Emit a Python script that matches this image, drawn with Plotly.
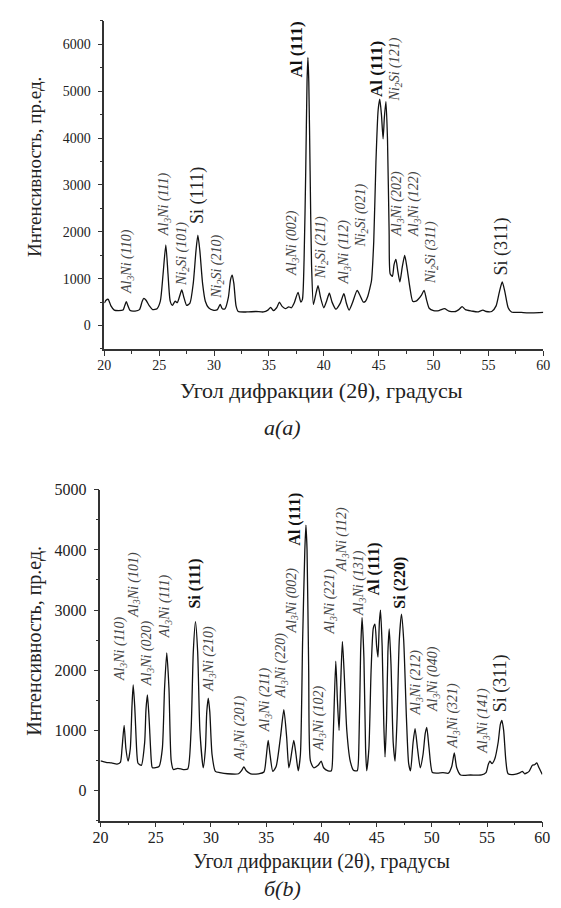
import plotly.graph_objects as go

# ---------------- data: pattern (a) ----------------
a_2theta = [20.0, 20.15, 20.35, 20.6, 20.9, 21.3, 21.7, 21.85, 22.0, 22.15, 22.35, 22.8, 23.2, 23.45, 23.6, 23.8,
            24.1, 24.4, 24.8, 25.1, 25.35, 25.6, 25.8, 26.0, 26.2, 26.45, 26.65, 26.85, 27.05, 27.25, 27.5, 27.8,
            28.1, 28.35, 28.52, 28.7, 28.95, 29.2, 29.5, 29.9, 30.3, 30.55, 30.75, 31.0, 31.3, 31.5, 31.65, 31.8,
            32.0, 32.2, 33.0, 33.8, 34.5, 34.9, 35.15, 35.4, 35.7, 35.95, 36.2, 36.5, 36.8, 37.05, 37.3, 37.65,
            37.9, 38.05, 38.2, 38.35, 38.47, 38.55, 38.63, 38.75, 38.88, 39.05, 39.25, 39.47, 39.7, 40.0, 40.25,
            40.5, 40.75, 41.1, 41.5, 41.83, 42.05, 42.3, 42.6, 43.04, 43.3, 43.6, 43.8, 44.0, 44.2, 44.34, 44.55,
            44.75, 44.95, 45.1, 45.25, 45.4, 45.52, 45.66, 45.8, 45.95, 46.05, 46.25, 46.4, 46.57, 46.75, 46.93,
            47.15, 47.37, 47.6, 47.85, 48.1, 48.4, 48.6, 48.9, 49.14, 49.35, 49.6, 50.0, 50.5, 51.0, 51.4, 52.0,
            52.3, 52.6, 52.9, 53.5, 54.0, 54.5, 54.8, 55.3, 55.7, 56.0, 56.26, 56.5, 56.8, 57.1, 58.0, 59.0, 60.0]
a_intensity = [480, 540, 560, 420, 330, 320, 330, 420, 510, 420, 320, 310, 340, 520, 580, 540,
               420, 340, 360, 520, 1100, 1720, 1100, 520, 430, 520, 490, 620, 760, 600, 430, 480,
               900, 1600, 1930, 1600, 900, 520, 380, 330, 340, 450, 360, 360, 600, 980, 1075, 900,
               420, 300, 290, 300, 290, 330, 390, 320, 380, 500, 410, 360, 400, 380, 480, 710,
               500, 560, 1400, 3300, 5200, 5720, 5200, 3300, 1300, 450, 650, 850, 600, 380, 520,
               690, 500, 350, 480, 680, 480, 330, 480, 750, 640, 500, 520, 620, 800, 950, 1800,
               3500, 4600, 4830, 4500, 3985, 4450, 4780, 4000, 2000, 1100, 1050, 1300, 1410, 1150, 930,
               1250, 1495, 1200, 800, 520, 520, 560, 650, 750, 560, 370, 320, 320, 360, 310, 300,
               340, 405, 340, 310, 290, 330, 300, 300, 420, 720, 930, 720, 380, 290, 280, 270, 280]

# ---------------- data: pattern (b) ----------------
b_2theta = [20.0, 20.5, 21.0, 21.5, 21.8, 21.95, 22.14, 22.3, 22.5, 22.7, 22.85, 22.96, 23.1, 23.3, 23.4, 23.7,
            24.0, 24.12, 24.25, 24.4, 24.6, 24.7, 25.3, 25.6, 25.8, 26.0, 26.2, 26.4, 26.6, 27.0, 27.5, 27.9,
            28.2, 28.4, 28.6, 28.8, 29.0, 29.3, 29.5, 29.62, 29.76, 29.9, 30.1, 30.4, 30.8, 31.5, 32.5, 32.8,
            32.98, 33.2, 33.6, 34.3, 34.8, 35.0, 35.18, 35.35, 35.6, 35.9, 36.3, 36.6, 36.85, 37.05, 37.2, 37.5,
            37.7, 37.9, 38.1, 38.3, 38.5, 38.6, 38.7, 38.85, 39.0, 39.3, 39.7, 39.98, 40.2, 40.6, 40.9, 41.05,
            41.3, 41.45, 41.6, 41.75, 41.9, 42.05, 42.3, 42.6, 42.9, 43.24, 43.4, 43.55, 43.68, 43.85, 44.0,
            44.1, 44.3, 44.5, 44.7, 44.85, 45.0, 45.12, 45.25, 45.35, 45.5, 45.65, 45.76, 45.9, 46.02, 46.14,
            46.3, 46.5, 46.67, 46.85, 47.05, 47.25, 47.45, 47.7, 47.9, 48.07, 48.3, 48.48, 48.7, 48.95, 49.2,
            49.4, 49.54, 49.75, 50.05, 50.5, 51.0, 51.5, 51.8, 52.03, 52.25, 52.6, 53.5, 54.5, 54.9, 55.1,
            55.25, 55.45, 55.7, 56.0, 56.2, 56.34, 56.5, 56.7, 56.9, 57.5, 58.0, 58.2, 58.4, 58.8, 59.1, 59.3,
            59.5, 59.7, 60.0]
b_intensity = [493, 470, 460, 440, 470, 700, 1085, 700, 490, 700, 1400, 1755, 1400, 600, 455, 420,
               800, 1350, 1590, 1200, 500, 380, 400, 700, 1700, 2290, 1700, 500, 350, 370, 350, 360,
               1000, 2300, 2808, 2300, 1000, 380, 700, 1300, 1535, 1300, 600, 320, 300, 280, 280, 340,
               395, 330, 280, 280, 310, 550, 835, 600, 320, 400, 900, 1345, 900, 380, 500, 835,
               600, 330, 600, 2500, 4000, 4413, 4000, 2000, 500, 380, 420, 490, 380, 330, 330, 800,
               2150, 1500, 1000, 1800, 2478, 2000, 1000, 500, 340, 330, 800, 2300, 2878, 2200, 700,
               330, 700, 2000, 2700, 2768, 2400, 2220, 2800, 3000, 2400, 1100, 560, 1200, 2300, 2686,
               2100, 800, 490, 1200, 2500, 2933, 2500, 1200, 450, 330, 800, 1030, 700, 380, 600,
               950, 1050, 700, 300, 290, 300, 290, 400, 625, 380, 260, 260, 260, 300, 430,
               490, 450, 530, 800, 1100, 1168, 1000, 500, 280, 270, 300, 320, 280, 320, 420, 430,
               460, 380, 270]

# ---------------- peak labels ----------------
A3 = "Al<sub>3</sub>Ni"
N2 = "Ni<sub>2</sub>Si"
# (text, 2theta, intensity at label bottom, style)
a_labels = [
    (A3 + " (110)", 22.1, 650, "i"),
    (A3 + " (111)", 25.5, 1880, "i"),
    (N2 + " (101)", 27.1, 830, "i"),
    ("Si (111)", 28.5, 2150, "r"),
    (N2 + " (210)", 30.35, 550, "i"),
    (A3 + " (002)", 37.2, 1040, "i"),
    ("Al (111)", 37.55, 5270, "b"),
    (N2 + " (211)", 39.8, 970, "i"),
    (A3 + " (112)", 41.9, 860, "i"),
    (N2 + " (021)", 43.45, 1635, "i"),
    ("Al (111)", 44.87, 4860, "b"),
    (N2 + " (121)", 46.57, 4760, "i"),
    (A3 + " (202)", 46.7, 1880, "i"),
    (A3 + " (122)", 48.26, 1880, "i"),
    (N2 + " (311)", 49.8, 860, "i"),
    ("Si (311)", 56.2, 1040, "r"),
]
b_labels = [
    (A3 + " (110)", 21.76, 1810, "i"),
    (A3 + " (101)", 23.0, 2850, "i"),
    (A3 + " (020)", 24.25, 1727, "i"),
    (A3 + " (111)", 25.95, 2520, "i"),
    ("Si (111)", 28.59, 3015, "b"),
    (A3 + " (210)", 29.87, 1617, "i"),
    (A3 + " (201)", 32.7, 466, "i"),
    (A3 + " (211)", 34.97, 960, "i"),
    (A3 + " (220)", 36.4, 1510, "i"),
    (A3 + " (002)", 37.38, 2604, "i"),
    ("Al (111)", 37.58, 4057, "b"),
    (A3 + " (102)", 39.84, 630, "i"),
    (A3 + " (221)", 40.86, 2577, "i"),
    (A3 + " (112)", 41.9, 3618, "i"),
    (A3 + " (131)", 43.45, 2878, "i"),
    ("Al (111)", 44.76, 3235, "b"),
    ("Si (220)", 47.16, 3015, "b"),
    (A3 + " (212)", 48.57, 1233, "i"),
    (A3 + " (040)", 50.1, 1288, "i"),
    (A3 + " (321)", 51.94, 686, "i"),
    (A3 + " (141)", 54.67, 603, "i"),
    ("Si (311)", 56.19, 1288, "r"),
]

x_ticks = [20, 25, 30, 35, 40, 45, 50, 55, 60]
a_yticks = [0, 1000, 2000, 3000, 4000, 5000, 6000]
b_yticks = [0, 1000, 2000, 3000, 4000, 5000]

x_title = "Угол дифракции (2θ), градусы"
y_title = "Интенсивность, пр.ед."
cap_a = "a(a)"
cap_b = "б(b)"

# page body has an 8px margin: the figure is drawn 8px right/down of the window corner
OFF = 8
W, H = 561 - OFF, 908 - 2 * OFF
SERIF = "Liberation Serif, Times New Roman, serif"


def px_x(p):
    return (p - OFF) / W


def px_y(p):
    return 1 - (p - OFF) / H


fig = go.Figure()
fig.add_trace(go.Scatter(x=a_2theta, y=a_intensity, mode="lines", xaxis="x", yaxis="y",
                         line=dict(color="#111", width=1.3, shape="spline", smoothing=0.6),
                         hoverinfo="skip", showlegend=False))
fig.add_trace(go.Scatter(x=b_2theta, y=b_intensity, mode="lines", xaxis="x2", yaxis="y2",
                         line=dict(color="#111", width=1.3, shape="spline", smoothing=0.6),
                         hoverinfo="skip", showlegend=False))

axis_common = dict(showline=True, linecolor="#333", linewidth=1.5, showgrid=False, zeroline=False,
                   ticks="outside", ticklen=5, tickwidth=1.2, tickcolor="#333", mirror=False)

fig.update_layout(
    width=W, height=H, margin=dict(l=0, r=0, t=0, b=0),
    paper_bgcolor="white", plot_bgcolor="white",
    xaxis=dict(domain=[px_x(99), px_x(551)], range=[20, 60], anchor="y",
               tickvals=x_ticks, tickfont=dict(family=SERIF, size=14, color="#222"),
               minor=dict(dtick=2.5, tick0=20, ticks="outside", ticklen=3, tickcolor="#333"),
               ticklabelstandoff=-3, **axis_common),
    yaxis=dict(domain=[px_y(344), px_y(13)], range=[-500, 6500], anchor="x",
               tickvals=a_yticks, tickfont=dict(family=SERIF, size=14, color="#222"),
               minor=dict(dtick=500, tick0=0, ticks="outside", ticklen=3, tickcolor="#333"),
               ticklabelstandoff=4, **axis_common),
    xaxis2=dict(domain=[px_x(95), px_x(550)], range=[20, 60], anchor="y2",
                tickvals=x_ticks, tickfont=dict(family=SERIF, size=16, color="#222"),
                minor=dict(dtick=2.5, tick0=20, ticks="outside", ticklen=3, tickcolor="#333"),
                ticklabelstandoff=-4, **axis_common),
    yaxis2=dict(domain=[px_y(820), px_y(486)], range=[-500, 5000], anchor="x2",
                tickvals=b_yticks, tickfont=dict(family=SERIF, size=16, color="#222"),
                minor=dict(dtick=500, tick0=0, ticks="outside", ticklen=3, tickcolor="#333"),
                ticklabelstandoff=4, **axis_common),
)

anns = []


def add_labels(labels, xref, yref, sizes):
    for text, x, y, style in labels:
        if style == "i":
            t = "<i>" + text + "</i>"
            font = dict(family=SERIF, size=sizes[0], color="#444")
        elif style == "b":
            t = "<b>" + text + "</b>"
            font = dict(family=SERIF, size=sizes[1], color="#111")
        else:
            t = text
            font = dict(family=SERIF, size=sizes[2], color="#222")
        anns.append(dict(text=t, x=x, y=y, xref=xref, yref=yref, textangle=-90,
                         xanchor="center", yanchor="bottom", showarrow=False, font=font,
                         borderpad=0))


add_labels(a_labels, "x", "y", (14, 17, 18))
add_labels(b_labels, "x2", "y2", (14, 16, 18))


def paper_text(text, xp, yp, size, angle=0):
    return dict(text=text, x=px_x(xp), y=px_y(yp), xref="paper", yref="paper", textangle=angle,
                xanchor="center", yanchor="middle", showarrow=False,
                font=dict(family=SERIF, size=size, color="#222"))


# axis titles and captions
anns += [
    paper_text(y_title, 27, 160, 19, -90),
    paper_text(x_title, 323, 386, 22),
    paper_text("<i>" + cap_a + "</i>", 282, 423, 22),
    paper_text(y_title, 27, 638, 20, -90),
    paper_text(x_title, 323, 861, 20),
    paper_text("<i>" + cap_b + "</i>", 282, 888, 22),
]
fig.update_layout(annotations=anns)

fig.write_html("out.html")
